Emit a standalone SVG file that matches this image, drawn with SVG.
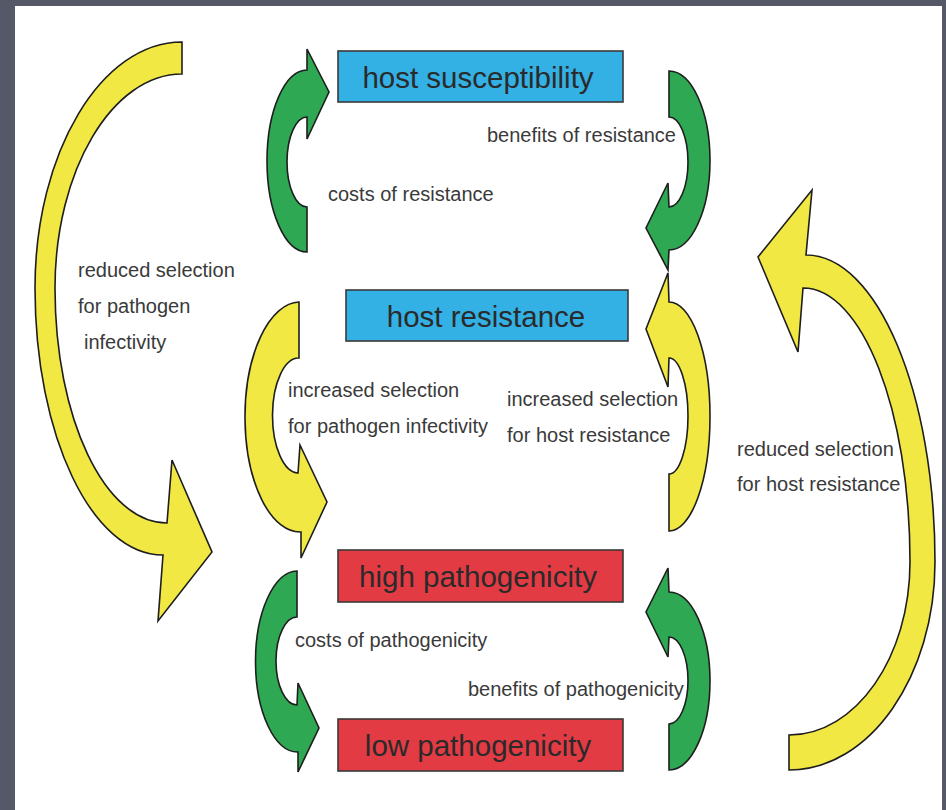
<svg xmlns="http://www.w3.org/2000/svg" width="946" height="810" viewBox="0 0 946 810">
<style>
  .bg{fill:#555867}
  .paper{fill:#ffffff}
  .yel{fill:#f2e843;stroke:#1e1e1e;stroke-width:1.6;stroke-linejoin:miter}
  .grn{fill:#2ea852;stroke:#1e1e1e;stroke-width:1.6;stroke-linejoin:miter}
  .blue{fill:#33b0e4;stroke:#3a3a3a;stroke-width:1.6}
  .red{fill:#e23b44;stroke:#3a3a3a;stroke-width:1.6}
  .bt{font-family:"Liberation Sans",Arial,sans-serif;font-size:29.5px;fill:#2a2a2a;text-anchor:middle}
  .lb{font-family:"Liberation Sans",Arial,sans-serif;font-size:20px;fill:#3a3a3a}
</style>
<rect class="bg" x="0" y="0" width="946" height="810"/>
<rect class="paper" x="15" y="6" width="927" height="804"/>

<g id="connectors">
  <!-- green: host resistance -> host susceptibility (costs of resistance) -->
  <path id="arrow-costs-resistance" class="grn" d="M307,252 A40,91 0 0 1 307,70 L307,49 L329,92 L307,139 L307,117 A20,45 0 0 0 307,207 Z"/>
  <!-- green: host susceptibility -> host resistance (benefits of resistance) -->
  <path id="arrow-benefits-resistance" class="grn" d="M669,71 A41,89.5 0 0 1 669,250 L668,270 L646,228 L668,183 L669,207 A19,45 0 0 0 669,117 Z"/>
  <!-- big yellow left: reduced selection for pathogen infectivity -->
  <path id="arrow-reduced-pathogen" class="yel" d="M182,42 C101,42 35,153 35,288 C35,436 92,555 163,555 L158,621 L212,552 L172,460 L167,523 C105,523 55,419 55,288 C55,171 112,74 182,74 Z"/>
  <!-- yellow: host resistance -> high pathogenicity -->
  <path id="arrow-increased-pathogen" class="yel" d="M299,302 A55,115 0 0 0 301,532 L301,558 L327,502 L300,445 L298,473 A26,57.5 0 0 1 299,358 Z"/>
  <!-- yellow: high pathogenicity -> host resistance -->
  <path id="arrow-increased-host" class="yel" d="M669,531 A41,114.5 0 0 0 669,302 L668,273 L646,329 L668,387 L669,358 A19,58 0 0 1 669,474 Z"/>
  <!-- big yellow right: reduced selection for host resistance -->
  <path id="arrow-reduced-host" class="yel" d="M789,770 C870,770 935,676 935,562 C935,392 877,255 806,255 L812,190 L758,257 L798,352 L803,288 C862,288 910,410 910,562 C910,657 856,735 789,735 Z"/>
  <!-- green: high -> low pathogenicity (costs of pathogenicity) -->
  <path id="arrow-costs-pathogenicity" class="grn" d="M297,571 A42,90.5 0 0 0 298,752 L298,772 L319,728 L298,683 L297,705 A21,44 0 0 1 297,617 Z"/>
  <!-- green: low -> high pathogenicity (benefits of pathogenicity) -->
  <path id="arrow-benefits-pathogenicity" class="grn" d="M669,770 A41,89 0 0 0 669,592 L668,568 L646,612 L668,657 L669,637 A19,43.5 0 0 1 669,724 Z"/>
</g>

<g id="labels">
  <text class="lb" x="487" y="142">benefits of resistance</text>
  <text class="lb" x="328" y="201">costs of resistance</text>
  <text class="lb" x="78" y="277">reduced selection</text>
  <text class="lb" x="78" y="313">for pathogen</text>
  <text class="lb" x="84" y="349">infectivity</text>
  <text class="lb" x="288" y="397">increased selection</text>
  <text class="lb" x="288" y="433">for pathogen infectivity</text>
  <text class="lb" x="507" y="406">increased selection</text>
  <text class="lb" x="507" y="442">for host resistance</text>
  <text class="lb" x="737" y="456">reduced selection</text>
  <text class="lb" x="737" y="491">for host resistance</text>
  <text class="lb" x="295" y="647">costs of pathogenicity</text>
  <text class="lb" x="468" y="696">benefits of pathogenicity</text>
</g>

<g id="node-host-susceptibility">
  <rect class="blue" x="338" y="51" width="285" height="51"/>
  <text class="bt" x="478" y="88">host susceptibility</text>
</g>
<g id="node-host-resistance">
  <rect class="blue" x="346" y="290" width="282" height="51"/>
  <text class="bt" x="486" y="327">host resistance</text>
</g>
<g id="node-high-pathogenicity">
  <rect class="red" x="338" y="550" width="285" height="52"/>
  <text class="bt" x="478" y="587">high pathogenicity</text>
</g>
<g id="node-low-pathogenicity">
  <rect class="red" x="338" y="719" width="285" height="52"/>
  <text class="bt" x="478" y="756">low pathogenicity</text>
</g>
</svg>
